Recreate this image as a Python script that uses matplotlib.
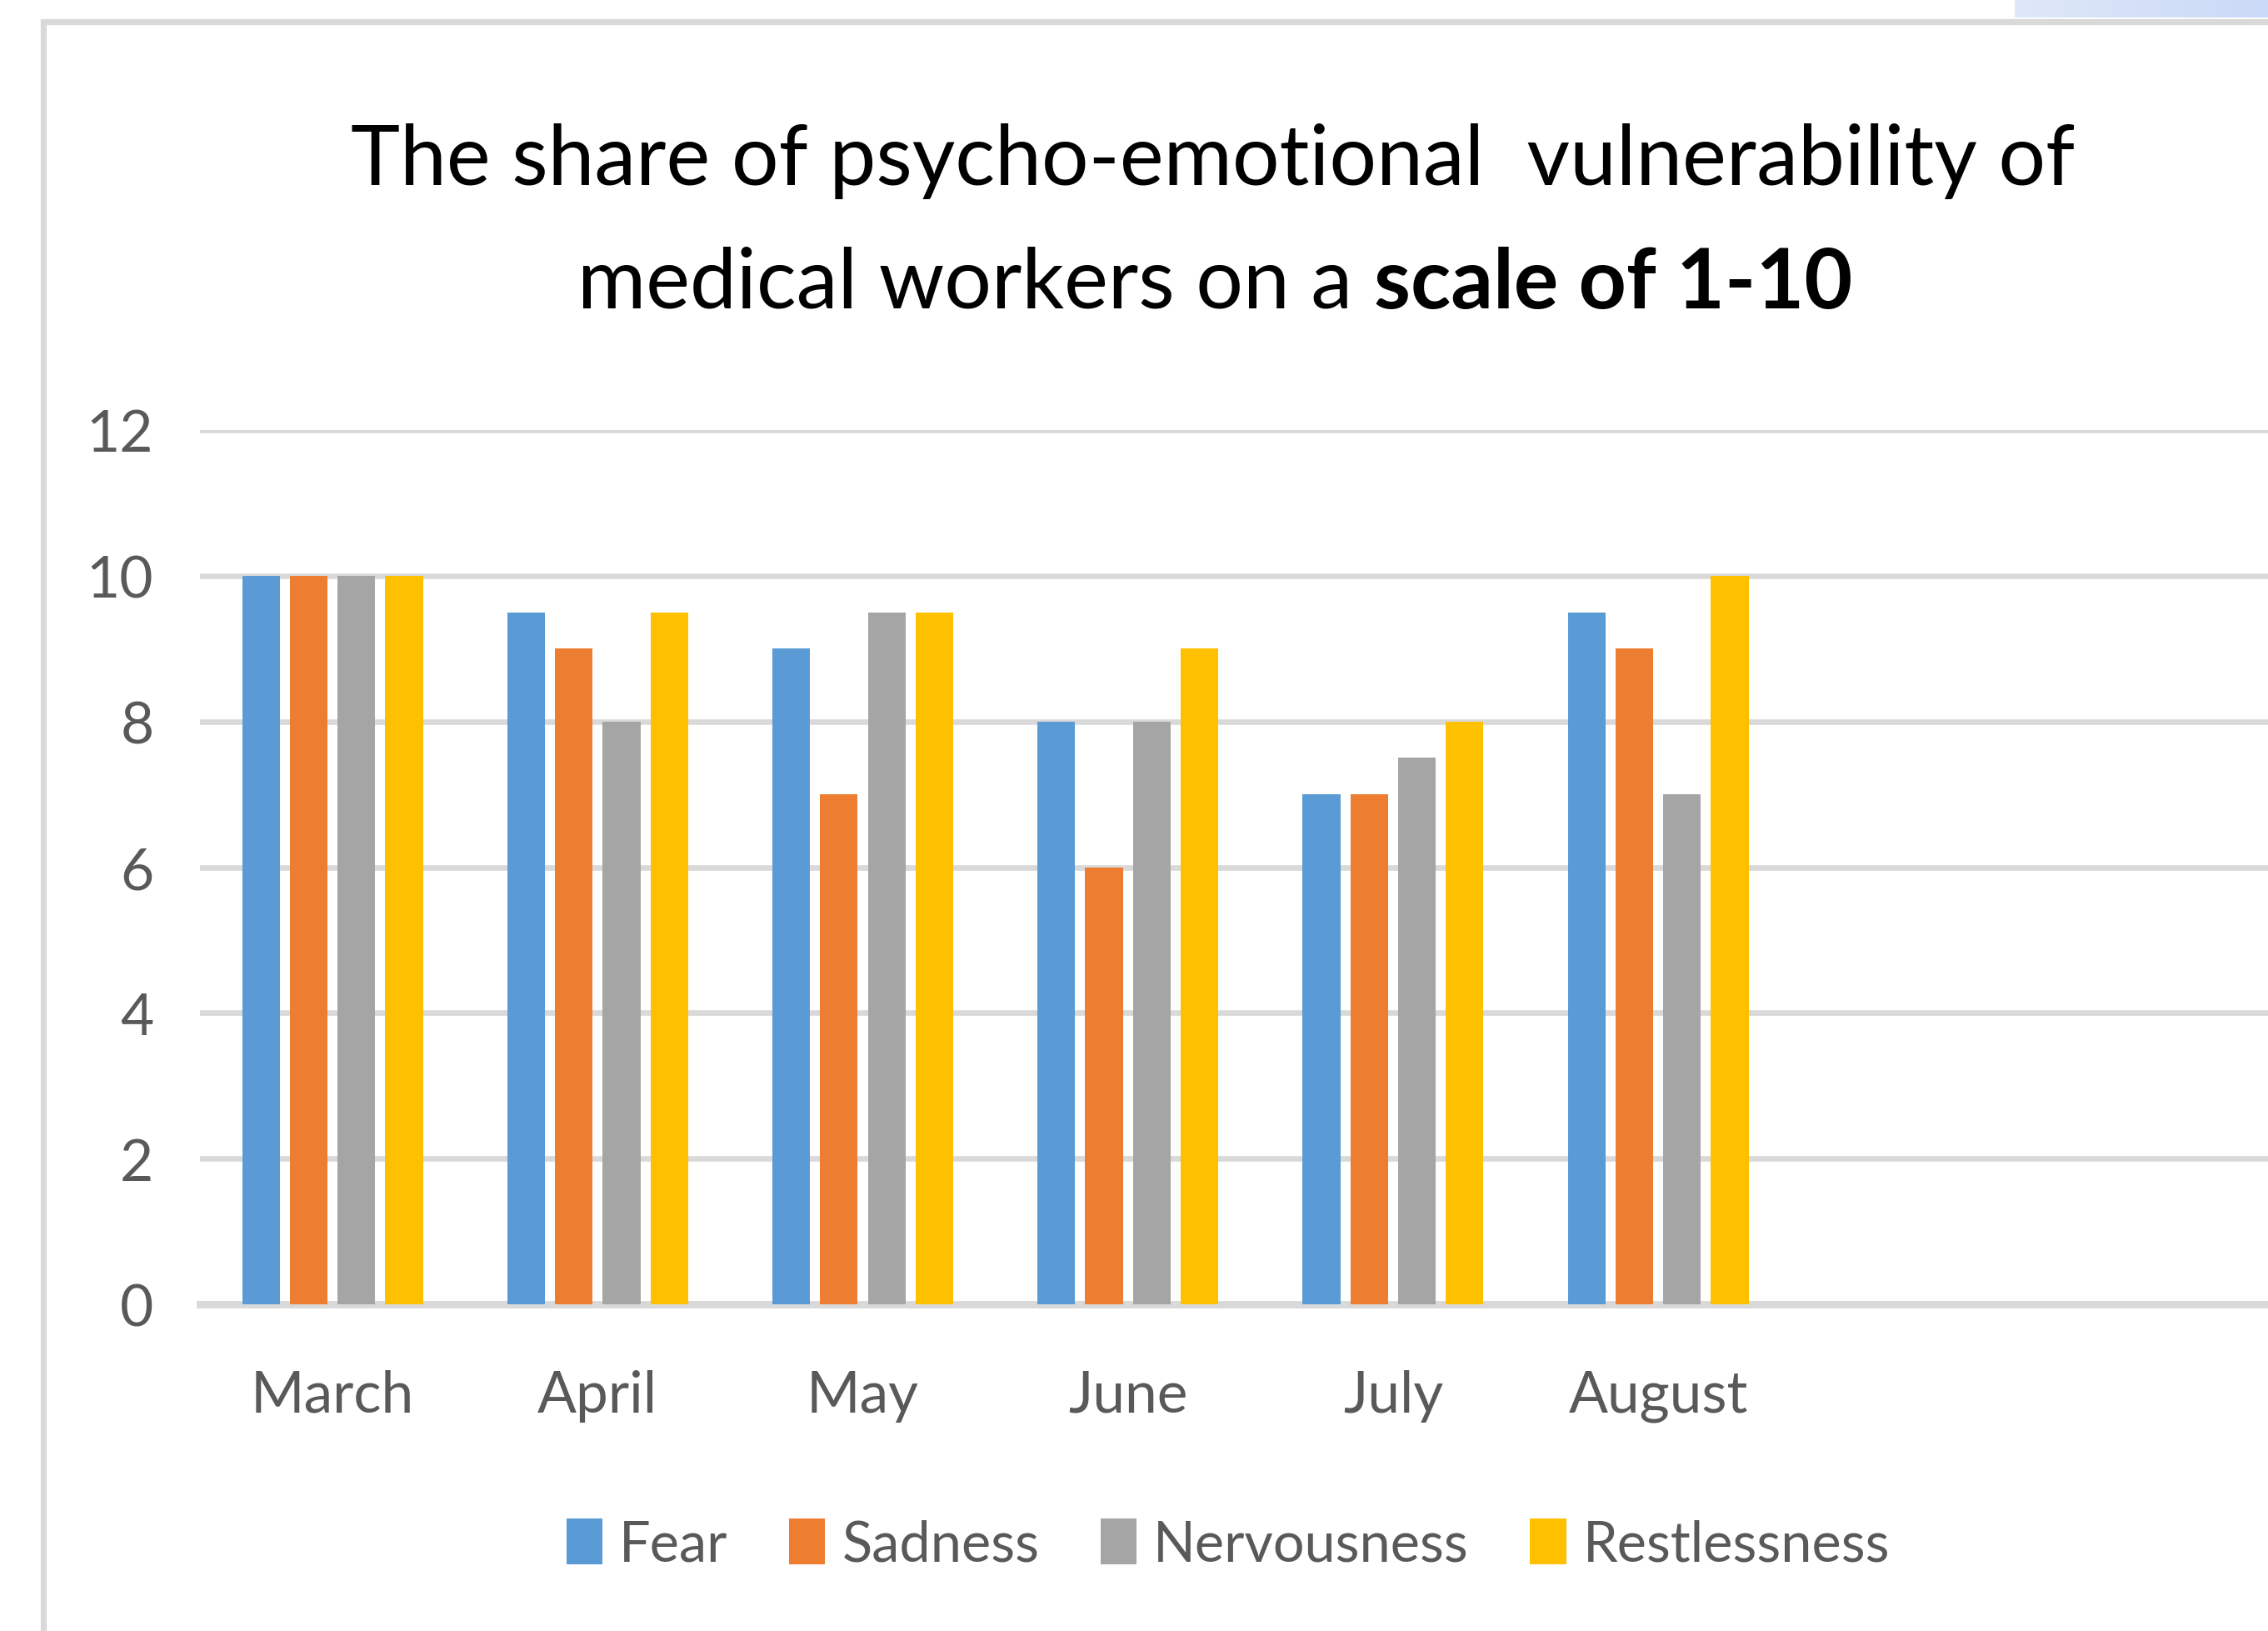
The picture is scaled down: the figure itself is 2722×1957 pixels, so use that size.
import numpy as np
import matplotlib.pyplot as plt
from matplotlib.patches import Rectangle
from matplotlib.colors import LinearSegmentedColormap

# Datos
months = ['March', 'April', 'May', 'June', 'July', 'August']
fear = [10, 9.5, 9, 8, 7, 9.5]
sadness = [10, 9, 7, 6, 7, 9]
nervousness = [10, 8, 9.5, 8, 7.5, 7]
restlessness = [10, 9.5, 9.5, 9, 8, 10]
series_names = ['Fear', 'Sadness', 'Nervousness', 'Restlessness']
colors = ['#5b9bd5', '#ed7d31', '#a5a5a5', '#ffc000']

plt.rcParams['font.family'] = ['Lato', 'DejaVu Sans']
W, H = 2722, 1958
fig = plt.figure(figsize=(W / 200, H / 200), dpi=200)

# Marco del grafico (solo se ven el borde izquierdo y el superior)
top = 1 - 27 / H
fig.add_artist(Rectangle((52 / W, -0.1), 2, top + 0.1, transform=fig.transFigure,
                         fill=False, edgecolor='#d9d9d9', linewidth=2.6))
# Degradado arriba a la derecha
gax = fig.add_axes([2418 / W, 1 - 22 / H, (W - 2418) / W, 22 / H])
gax.imshow(np.linspace(0, 1, 100).reshape(1, -1), aspect='auto',
           cmap=LinearSegmentedColormap.from_list('g', ['#dfe8f8', '#cad9f7']))
gax.axis('off')

ax = fig.add_axes([240 / W, 1 - 1566 / H, (W - 240) / W, (1566 - 517) / H])
x = np.arange(len(months))
width = 0.142
pitch = 0.18
data = [fear, sadness, nervousness, restlessness]
for i, (vals, name, c) in enumerate(zip(data, series_names, colors)):
    ax.bar(x + (i - 1.5) * pitch, vals, width, color=c, label=name, zorder=3)

ax.set_xlim(-0.5, 7.3)
ax.set_ylim(0, 12)
ax.set_yticks(range(0, 13, 2))
ax.set_xticks(x)
ax.set_xticklabels(months)
ax.grid(axis='y', color='#d9d9d9', linewidth=2.4, zorder=0)
ax.axhline(0, color='#d9d9d9', linewidth=3.2, zorder=2, clip_on=False)
for s in ax.spines.values():
    s.set_visible(False)
ax.tick_params(axis='both', length=0, colors='#595959', labelsize=25)
ax.tick_params(axis='x', pad=28)
ax.tick_params(axis='y', pad=20)

# Titulo
fig.text(1456 / W, 1 - 222 / H, 'The share of psycho-emotional  vulnerability of',
         ha='center', va='baseline', fontsize=36, color='black')
fig.canvas.draw()
r = fig.canvas.get_renderer()
t1 = fig.text(0, 1 - 370 / H, 'medical workers on a ', fontsize=36, va='baseline')
t2 = fig.text(0, 1 - 370 / H, 'scale of 1-10', fontsize=36, va='baseline', fontweight='bold')
w1 = t1.get_window_extent(r).width
w2 = t2.get_window_extent(r).width
x0 = 1458 - (w1 + w2) / 2
t1.set_x(x0 / W)
t2.set_x((x0 + w1) / W)

fig.legend(loc='center', bbox_to_anchor=(1474 / W, 1 - 1854 / H), ncol=4, frameon=False,
           fontsize=24, labelcolor='#595959', handlelength=0.65, handleheight=0.9,
           handletextpad=0.3, columnspacing=1.1)

fig.savefig('out.png', dpi=200)
